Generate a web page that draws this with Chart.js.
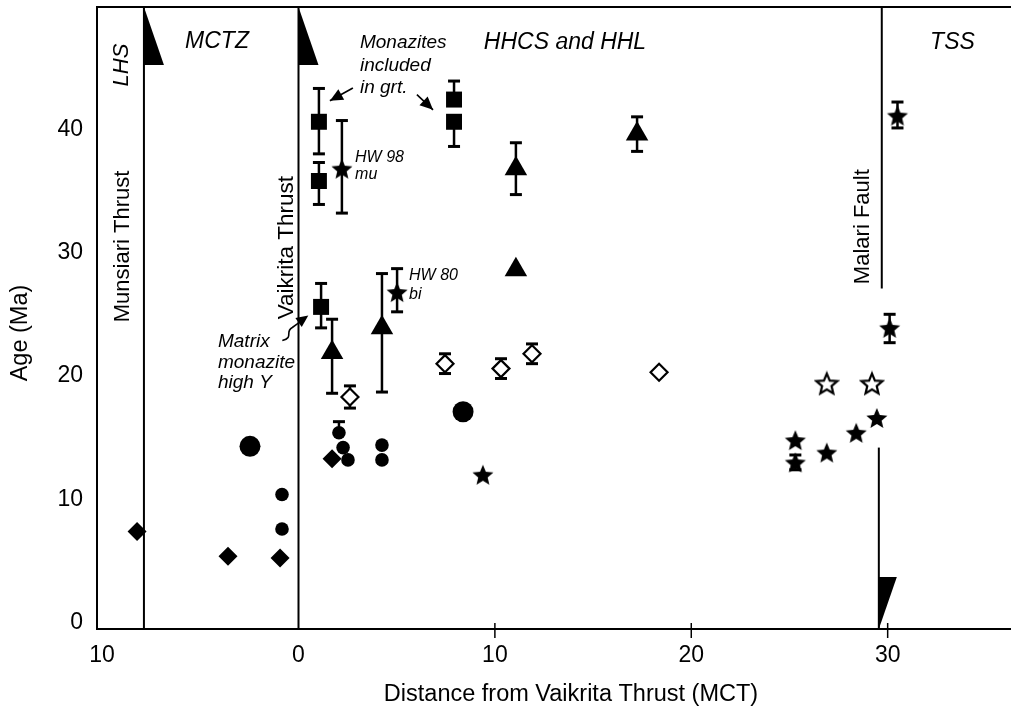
<!DOCTYPE html>
<html>
<head>
<meta charset="utf-8">
<title>Age vs distance from Vaikrita Thrust</title>
<script src="https://cdn.jsdelivr.net/npm/chart.js@4.4.1/dist/chart.umd.min.js"></script>
<style>
  html, body { margin: 0; padding: 0; background: #fff; }
  canvas { display: block; }
</style>
</head>
<body>
<canvas id="chartContainer" width="1011" height="713"></canvas>
<script>
// ---- values ----
const xTicks = [-10, 0, 10, 20, 30];
const yTicks = [0, 10, 20, 30, 40];

// filled squares (monazite) with error bars
const squareX = [1.04, 1.04, 1.15, 7.92, 7.92];
const squareY = [40.6, 35.8, 25.6, 42.4, 40.6];
const squareLo = [38.0, 33.9, 23.9, null, 38.6];
const squareHi = [43.3, 37.3, 27.5, 43.9, null];

// filled triangles
const triX = [1.71, 4.25, 11.07, 11.07, 17.24];
const triY = [21.9, 23.9, 36.8, 28.6, 39.6];
const triLo = [18.6, 18.7, 34.7, null, 38.2];
const triHi = [24.6, 28.3, 38.9, null, 41.0];

// filled stars
const starX = [2.21, 5.02, 9.39, 25.3, 25.3, 26.9, 28.4, 29.45, 30.1, 30.5];
const starY = [36.8, 26.8, 12.0, 14.8, 13.0, 13.8, 15.4, 16.6, 23.9, 41.1];
const starLo = [33.2, 25.2, null, null, 12.4, null, null, null, 22.7, 40.1];
const starHi = [40.7, 28.7, null, null, 13.6, null, null, null, 25.0, 42.2];

// open stars
const openStarX = [26.9, 29.2];
const openStarY = [19.4, 19.4];

// open diamonds
const openDiaX = [2.62, 7.46, 10.31, 11.89, 18.36];
const openDiaY = [18.3, 21.0, 20.6, 21.8, 20.3];
const openDiaLo = [17.4, 20.2, 19.8, 21.0, null];
const openDiaHi = [19.2, 21.8, 21.4, 22.6, null];

// filled diamonds
const diaX = [-8.22, -3.59, -0.94, 1.71];
const diaY = [7.4, 5.4, 5.25, 13.3];

// small filled circles
const dotX = [-0.84, -0.84, 2.06, 2.27, 2.52, 4.25, 4.25];
const dotY = [10.4, 7.6, 15.4, 14.2, 13.2, 14.4, 13.2];
const dotLo = [null, null, null, null, null, null, null];
const dotHi = [null, null, 16.3, null, null, null, null];

// large filled circles
const bigDotX = [-2.47, 8.38];
const bigDotY = [14.3, 17.1];

// fault traces: [x, yFrom, yTo]
const munsiari = [-7.87, -0.5, 49.9];
const vaikrita = [0, -0.5, 49.9];
const malariUpper = [29.7, 27.1, 49.9];
const malariLower = [29.55, -0.5, 14.2];

const X_MIN = -10.26, X_MAX = 36.28, Y_MIN = -0.5, Y_MAX = 49.9;

function pts(xs, ys) {
    return xs.map((x, i) => ({ x: x, y: ys[i] }));
}

function faultLine(f) {
    return {
        data: [{ x: f[0], y: f[1] }, { x: f[0], y: f[2] }],
        showLine: true, pointRadius: 0, borderColor: '#000', borderWidth: 2,
        order: 10
    };
}

// five point star drawn on a small canvas, used as a point style
function makeStar(r, filled) {
    const c = document.createElement('canvas');
    const s = Math.ceil(2 * r + 4);
    c.width = s; c.height = s;
    const g = c.getContext('2d');
    g.translate(s / 2, s / 2 + r * 0.1);
    g.beginPath();
    for (let i = 0; i < 10; i++) {
        const rr = i % 2 === 0 ? r : r * 0.45;
        const a = -Math.PI / 2 + i * Math.PI / 5;
        g.lineTo(rr * Math.cos(a), rr * Math.sin(a));
    }
    g.closePath();
    g.lineJoin = 'miter';
    if (filled) {
        g.fillStyle = '#000'; g.fill();
    } else {
        g.fillStyle = '#fff'; g.fill();
        g.lineWidth = 2.2; g.strokeStyle = '#000'; g.stroke();
    }
    return c;
}

const fontFamily = '"Liberation Sans", Arial, sans-serif';

// text annotations, anchored in data units
const notes = [
    { lines: ['MCTZ'], x: -4.15, y: 47.1, size: 23, italic: true, align: 'center' },
    { lines: ['HHCS and HHL'], x: 13.57, y: 47.0, size: 23, italic: true, align: 'center' },
    { lines: ['TSS'], x: 33.3, y: 47.0, size: 23, italic: true, align: 'center' },
    { lines: ['LHS'], x: -8.97, y: 45.2, size: 22, italic: true, align: 'center', rotate: true },
    { lines: ['Munsiari Thrust'], x: -8.93, y: 30.5, size: 22, align: 'center', rotate: true },
    { lines: ['Vaikrita Thrust'], x: -0.62, y: 30.4, size: 22.5, align: 'center', rotate: true },
    { lines: ['Malari Fault'], x: 28.74, y: 32.1, size: 22, align: 'center', rotate: true },
    { lines: ['Monazites', 'included', 'in grt.'], x: 3.13, y: 47.0, size: 19, italic: true, align: 'left', lh: 22.5 },
    { lines: ['HW 98', 'mu'], x: 2.88, y: 37.7, size: 16, italic: true, align: 'left', lh: 16.5 },
    { lines: ['HW 80', 'bi'], x: 5.63, y: 28.1, size: 16, italic: true, align: 'left', lh: 18.5 },
    { lines: ['Matrix', 'monazite', 'high Y'], x: -4.1, y: 22.75, size: 19, italic: true, align: 'left', lh: 20.5 }
];

// straight arrows [fromX, fromY, toX, toY]
const arrows = [
    [2.77, 43.34, 1.6, 42.3],
    [6.03, 42.8, 6.85, 41.57]
];
// squiggly arrow tip (matrix monazite)
const squiggleTip = [0.5, 24.9];

function arrowHead(ctx, x1, y1, x2, y2, len, half) {
    const a = Math.atan2(y2 - y1, x2 - x1);
    ctx.beginPath();
    ctx.moveTo(x2, y2);
    ctx.lineTo(x2 - len * Math.cos(a) + half * Math.sin(a), y2 - len * Math.sin(a) - half * Math.cos(a));
    ctx.lineTo(x2 - len * Math.cos(a) - half * Math.sin(a), y2 - len * Math.sin(a) + half * Math.cos(a));
    ctx.closePath();
    ctx.fill();
}

const errorBars = {
    id: 'errorBars',
    beforeDatasetsDraw(chart) {
        const { ctx, scales: { x, y } } = chart;
        ctx.save();
        ctx.strokeStyle = '#000';
        chart.data.datasets.forEach(ds => {
            if (!ds.errLow) return;
            ds.data.forEach((p, i) => {
                const px = x.getPixelForValue(p.x);
                const py0 = y.getPixelForValue(p.y);
                [ds.errLow[i], ds.errHigh[i]].forEach(v => {
                    if (v == null) return;
                    const py = y.getPixelForValue(v);
                    ctx.lineWidth = 2.5;
                    ctx.beginPath(); ctx.moveTo(px, py0); ctx.lineTo(px, py); ctx.stroke();
                    ctx.lineWidth = 3;
                    ctx.beginPath(); ctx.moveTo(px - 6, py); ctx.lineTo(px + 6, py); ctx.stroke();
                });
            });
        });
        ctx.restore();
    }
};

const decorations = {
    id: 'decorations',
    afterDraw(chart) {
        const { ctx, chartArea: area, scales: { x, y } } = chart;
        ctx.save();
        ctx.fillStyle = '#000';
        ctx.strokeStyle = '#000';

        // top frame line
        ctx.lineWidth = 2;
        ctx.beginPath(); ctx.moveTo(area.left, area.top); ctx.lineTo(area.right, area.top); ctx.stroke();

        // crossing tick marks on the x axis
        ctx.lineWidth = 1.5;
        xTicks.filter(v => v > 0).forEach(v => {
            const px = x.getPixelForValue(v);
            ctx.beginPath(); ctx.moveTo(px, area.bottom - 6); ctx.lineTo(px, area.bottom + 9); ctx.stroke();
        });

        // thrust teeth
        [munsiari[0], vaikrita[0]].forEach(fx => {
            const px = x.getPixelForValue(fx);
            ctx.beginPath();
            ctx.moveTo(px, area.top);
            ctx.lineTo(px + 20, area.top + 58);
            ctx.lineTo(px, area.top + 58);
            ctx.closePath();
            ctx.fill();
        });
        const mx = x.getPixelForValue(malariLower[0]);
        ctx.beginPath();
        ctx.moveTo(mx, area.bottom);
        ctx.lineTo(mx + 18, area.bottom - 52);
        ctx.lineTo(mx, area.bottom - 52);
        ctx.closePath();
        ctx.fill();

        // arrows
        ctx.lineWidth = 1.6;
        arrows.forEach(a => {
            const x1 = x.getPixelForValue(a[0]), y1 = y.getPixelForValue(a[1]);
            const x2 = x.getPixelForValue(a[2]), y2 = y.getPixelForValue(a[3]);
            ctx.beginPath(); ctx.moveTo(x1, y1); ctx.lineTo(x2, y2); ctx.stroke();
            arrowHead(ctx, x1, y1, x2, y2, 13, 6);
        });
        const tx = x.getPixelForValue(squiggleTip[0]), ty = y.getPixelForValue(squiggleTip[1]);
        ctx.beginPath();
        ctx.moveTo(tx - 26, ty + 25);
        ctx.bezierCurveTo(tx - 14, ty + 22, tx - 24, ty + 16, tx - 16, ty + 12);
        ctx.quadraticCurveTo(tx - 10, ty + 8, tx - 6, ty + 4);
        ctx.stroke();
        arrowHead(ctx, tx - 14, ty + 10, tx, ty, 12, 5.5);

        // annotations
        ctx.textBaseline = 'middle';
        notes.forEach(n => {
            ctx.font = (n.italic ? 'italic ' : '') + n.size + 'px ' + fontFamily;
            ctx.textAlign = n.align;
            const px = x.getPixelForValue(n.x), py = y.getPixelForValue(n.y);
            ctx.save();
            ctx.translate(px, py);
            if (n.rotate) ctx.rotate(-Math.PI / 2);
            n.lines.forEach((t, i) => ctx.fillText(t, 0, i * (n.lh || 0)));
            ctx.restore();
        });

        // axis titles
        ctx.font = '23.5px ' + fontFamily;
        ctx.textAlign = 'center';
        ctx.fillText('Distance from Vaikrita Thrust (MCT)', 571, 695);
        ctx.save();
        ctx.translate(21, 333);
        ctx.rotate(-Math.PI / 2);
        ctx.fillText('Age (Ma)', 0, 0);
        ctx.restore();

        ctx.restore();
    }
};

const filledStar = makeStar(11, true);
const hollowStar = makeStar(11, false);

const datasets = [
    { data: pts(squareX, squareY), errLow: squareLo, errHigh: squareHi,
      pointStyle: 'rect', pointRadius: 11.3, backgroundColor: '#000', borderColor: '#000', borderWidth: 0 },
    { data: pts(triX, triY), errLow: triLo, errHigh: triHi,
      pointStyle: 'triangle', pointRadius: 13, backgroundColor: '#000', borderColor: '#000', borderWidth: 0 },
    { data: pts(starX, starY), errLow: starLo, errHigh: starHi,
      pointStyle: filledStar, pointRadius: 11 },
    { data: pts(openStarX, openStarY), pointStyle: hollowStar, pointRadius: 11 },
    { data: pts(openDiaX, openDiaY), errLow: openDiaLo, errHigh: openDiaHi,
      pointStyle: 'rectRot', pointRadius: 8.5, backgroundColor: '#fff', borderColor: '#000', borderWidth: 2.2 },
    { data: pts(diaX, diaY), pointStyle: 'rectRot', pointRadius: 9.5, backgroundColor: '#000', borderColor: '#000', borderWidth: 0 },
    { data: pts(dotX, dotY), errLow: dotLo, errHigh: dotHi,
      pointStyle: 'circle', pointRadius: 6.8, backgroundColor: '#000', borderColor: '#000', borderWidth: 0 },
    { data: pts(bigDotX, bigDotY), pointStyle: 'circle', pointRadius: 10.5, backgroundColor: '#000', borderColor: '#000', borderWidth: 0 },
    faultLine(munsiari),
    faultLine(vaikrita),
    faultLine(malariUpper),
    faultLine(malariLower)
];

Chart.defaults.font.family = fontFamily;
Chart.defaults.color = '#000';

const ctx = document.getElementById('chartContainer').getContext('2d');
const chart = new Chart(ctx, {
    type: 'scatter',
    data: { datasets: datasets },
    plugins: [errorBars, decorations],
    options: {
        responsive: false,
        animation: false,
        layout: { autoPadding: false, padding: { top: 7, right: 0, left: 0, bottom: 0 } },
        plugins: { legend: { display: false }, tooltip: { enabled: false } },
        elements: { point: { hoverRadius: 0 } },
        scales: {
            x: {
                type: 'linear', min: X_MIN, max: X_MAX,
                afterBuildTicks: s => { s.ticks = xTicks.map(v => ({ value: v })); },
                afterFit: s => { s.height = 84; s.paddingLeft = 0; s.paddingRight = 0; },
                grid: { display: false, drawTicks: false },
                border: { display: true, color: '#000', width: 2 },
                ticks: { font: { size: 23 }, padding: 13, maxRotation: 0,
                         callback: v => String(Math.abs(v)) }
            },
            y: {
                type: 'linear', min: Y_MIN, max: Y_MAX,
                afterBuildTicks: s => { s.ticks = yTicks.map(v => ({ value: v })); },
                afterFit: s => { s.width = 97; s.paddingTop = 0; s.paddingBottom = 0; },
                grid: { display: false, drawTicks: false },
                border: { display: true, color: '#000', width: 2 },
                ticks: { font: { size: 23 }, padding: 14 }
            }
        }
    }
});
</script>
</body>
</html>
